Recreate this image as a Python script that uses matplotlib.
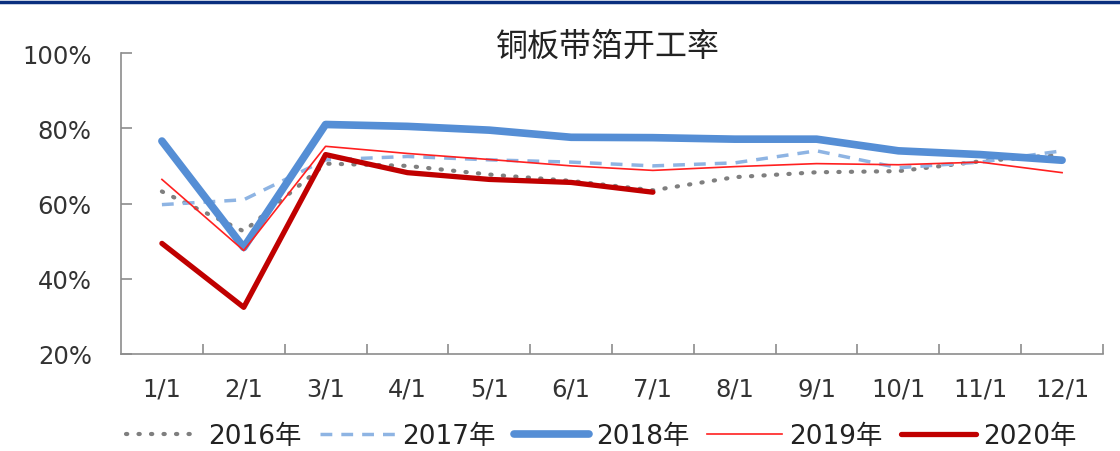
import numpy as np
import matplotlib.pyplot as plt
from matplotlib.ticker import FixedLocator, PercentFormatter

plt.rcParams['font.family'] = ['DejaVu Sans', 'Noto Sans CJK SC']

# monthly operating rate of copper plate/strip/foil mills, %
months = ['1/1', '2/1', '3/1', '4/1', '5/1', '6/1', '7/1', '8/1', '9/1', '10/1', '11/1', '12/1']
rate_2016 = [63.2, 52.6, 70.6, 70.0, 67.7, 66.0, 63.5, 67.0, 68.3, 68.6, 71.2, 73.0]
rate_2017 = [59.7, 61.0, 71.6, 72.5, 71.6, 71.0, 70.0, 70.8, 74.0, 69.5, 71.0, 74.0]
rate_2018 = [76.6, 48.3, 81.0, 80.5, 79.5, 77.6, 77.5, 77.1, 77.1, 74.0, 73.0, 71.5]
rate_2019 = [66.4, 47.5, 75.2, 73.3, 71.7, 70.0, 68.8, 69.8, 70.6, 70.3, 71.0, 68.2]
rate_2020 = [49.4, 32.4, 73.0, 68.2, 66.4, 65.6, 63.0]

fig = plt.figure(figsize=(11.2, 4.52), dpi=100)
ax = fig.add_axes([121 / 1120, 1 - 355 / 452, (1103 - 121) / 1120, (355 - 54) / 452])

x = np.arange(len(months))
ax.plot(x, rate_2016, color='#7f7f7f', lw=3, ls=(0, (0.3, 2.7)), dash_capstyle='round', label='2016年')
ax.plot(x, rate_2017, color='#8eb4e3', lw=2.5, ls=(0, (3.4, 2.6)), label='2017年')
ax.plot(x, rate_2018, color='#558ed5', lw=5.5, solid_capstyle='round', label='2018年')
ax.plot(x, rate_2019, color='#ff2020', lw=1.2, label='2019年')
ax.plot(x[:len(rate_2020)], rate_2020, color='#c00000', lw=3.8, solid_capstyle='round', label='2020年')

ax.set_xlim(-0.5, len(months) - 0.5)
ax.set_ylim(20, 100)
ax.set_yticks([20, 40, 60, 80, 100])
ax.yaxis.set_major_formatter(PercentFormatter(decimals=0))
ax.set_xticks(x)
ax.set_xticklabels(months)
ax.xaxis.set_minor_locator(FixedLocator(np.arange(0.5, len(months), 1.0)))

for side in ['top', 'right']:
    ax.spines[side].set_visible(False)
for side in ['left', 'bottom']:
    ax.spines[side].set_color('#8c8c8c')
    ax.spines[side].set_linewidth(1.2)

ax.tick_params(axis='y', direction='in', length=8, width=1.2, color='#8c8c8c',
               labelsize=17.5, labelcolor='#333333', pad=21)
ax.tick_params(axis='x', which='major', length=0, labelsize=17.5, labelcolor='#333333', pad=16)
ax.tick_params(axis='x', which='minor', direction='in', length=7, width=1.2, color='#8c8c8c')

fig.text(0.543, 1 - 47 / 452, '铜板带箔开工率', ha='center', va='center', fontsize=23,
         color='#222222', family=['Noto Sans CJK SC'])

leg = fig.legend(loc='center', bbox_to_anchor=(0.537, 1 - 437 / 452), ncol=5, frameon=False,
                 fontsize=19, handlelength=2.85, handletextpad=0.27, columnspacing=0.68,
                 borderaxespad=0)
for t in leg.get_texts():
    t.set_color('#222222')

# thin navy rule along the top edge
fig.add_artist(plt.Line2D([0, 1], [1 - 3 / 452, 1 - 3 / 452], color='#0a2f7f', lw=2.5,
                          transform=fig.transFigure))

fig.savefig('out.png', dpi=100)
